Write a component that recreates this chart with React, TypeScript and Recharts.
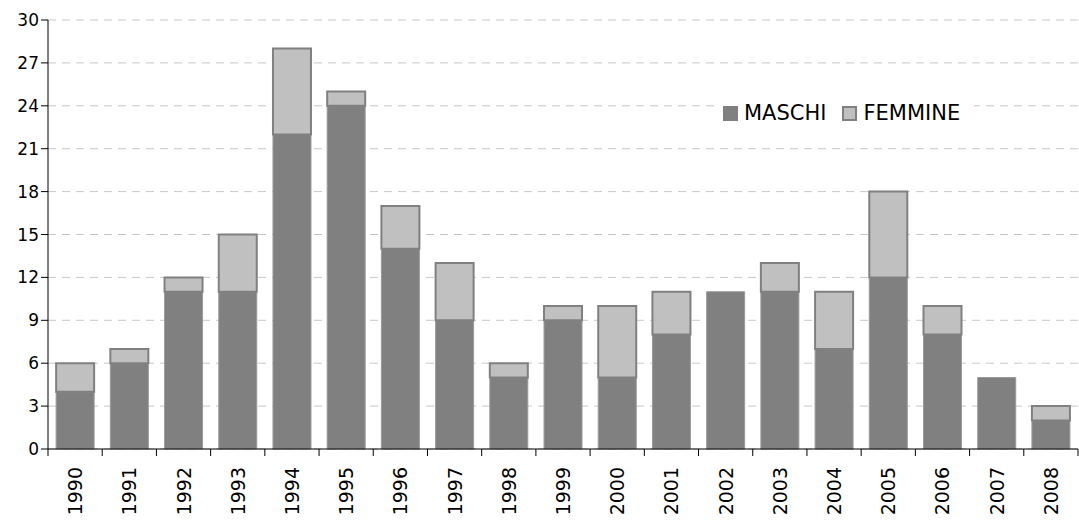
import React from "react";
import { BarChart, Bar, XAxis, YAxis, CartesianGrid } from "recharts";

const years = [
  "1990", "1991", "1992", "1993", "1994", "1995", "1996", "1997", "1998", "1999",
  "2000", "2001", "2002", "2003", "2004", "2005", "2006", "2007", "2008",
];
const maschi = [4, 6, 11, 11, 22, 24, 14, 9, 5, 9, 5, 8, 11, 11, 7, 12, 8, 5, 2];
const femmine = [2, 1, 1, 4, 6, 1, 3, 4, 1, 1, 5, 3, 0, 2, 4, 6, 2, 0, 1];
const yTicks = [0, 3, 6, 9, 12, 15, 18, 21, 24, 27, 30];
const seriesNames = ["MASCHI", "FEMMINE"];

const data = years.map((y, i) => ({ year: y, MASCHI: maschi[i], FEMMINE: femmine[i] }));

const W = 1079;
const H = 522;
const LEFT = 48;
const RIGHT = 1;
const band = (W - LEFT - RIGHT) / years.length;
const FONT = "DejaVu Sans, Verdana, sans-serif";

const YearTick = (props: any) => {
  const { x, y, payload, index } = props;
  const left = x - band / 2;
  return (
    <g>
      <line x1={left} y1={y - 8} x2={left} y2={y - 1} stroke="#000" strokeWidth={1} />
      {index === years.length - 1 && (
        <line x1={left + band} y1={y - 8} x2={left + band} y2={y - 1} stroke="#000" strokeWidth={1} />
      )}
      <text
        x={x}
        y={y + 10}
        transform={`rotate(-90, ${x}, ${y + 10})`}
        textAnchor="end"
        dominantBaseline="central"
        fontSize={19}
        fontFamily={FONT}
        fill="#000"
      >
        {payload.value}
      </text>
    </g>
  );
};

export default function App() {
  return (
    <div style={{ position: "absolute", left: 0, top: 0, width: W, height: H, background: "#fff" }}>
      <BarChart
        width={W}
        height={H}
        data={data}
        margin={{ top: 20, right: RIGHT, left: 0, bottom: 0 }}
        barCategoryGap="15%"
      >
        <CartesianGrid vertical={false} stroke="#c8c8c8" strokeDasharray="8 6" />
        <XAxis
          dataKey="year"
          interval={0}
          height={73}
          tickLine={false}
          axisLine={{ stroke: "#000" }}
          tick={<YearTick />}
        />
        <YAxis
          width={LEFT}
          domain={[0, 30]}
          ticks={yTicks}
          interval={0}
          axisLine={{ stroke: "#000" }}
          tickLine={{ stroke: "#000" }}
          tickSize={7}
          tick={{ fontSize: 17, fill: "#000", fontFamily: FONT }}
        />
        <Bar dataKey="MASCHI" stackId="a" fill="#808080" stroke="#9a9a9a" strokeWidth={1} isAnimationActive={false} />
        <Bar dataKey="FEMMINE" stackId="a" fill="#c0c0c0" stroke="#808080" strokeWidth={2} isAnimationActive={false} />
      </BarChart>
      <div
        style={{
          position: "absolute",
          left: 717,
          top: 99,
          padding: "0 14px 0 6px",
          background: "#fff",
          display: "flex",
          alignItems: "center",
          fontFamily: FONT,
          fontSize: 21,
          lineHeight: "28px",
          color: "#000",
        }}
      >
        <span style={{ width: 15, height: 15, background: "#808080", display: "inline-block", marginRight: 6 }} />
        <span style={{ marginRight: 16 }}>{seriesNames[0]}</span>
        <span style={{ width: 11, height: 11, background: "#c0c0c0", border: "2px solid #808080", display: "inline-block", marginRight: 6 }} />
        <span>{seriesNames[1]}</span>
      </div>
    </div>
  );
}
